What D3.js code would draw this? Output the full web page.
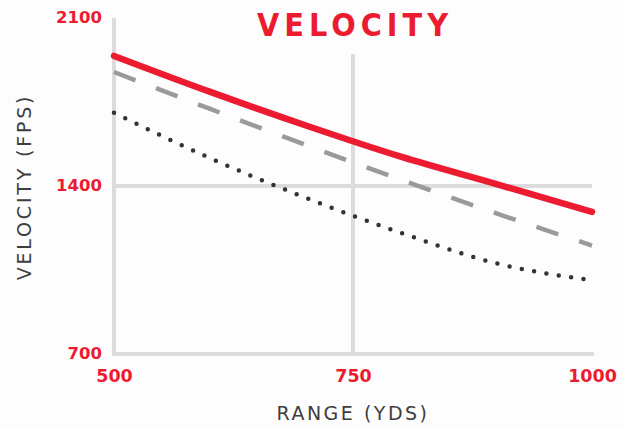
<!DOCTYPE html>
<html>
<head>
<meta charset="utf-8">
<script src="https://cdn.jsdelivr.net/npm/d3@7"></script>
<style>
  html, body { margin: 0; padding: 0; background: #fdfdfd; }
  svg { display: block; }
  .tick-label { font-family: "DejaVu Sans", sans-serif; font-weight: bold; fill: #ec1b30; }
  .axis-title { font-family: "DejaVu Sans", sans-serif; fill: #3e3e40; }
</style>
</head>
<body>
<svg id="chart" width="624" height="427"></svg>
<script>
// Range in yards
const ranges = [500, 600, 700, 800, 900, 1000];
// Velocity in feet per second, one array per load
const velocityA = [1942, 1793, 1653, 1522, 1408, 1292];
const velocityB = [1875, 1722, 1572, 1426, 1286, 1152];
const velocityC = [1705, 1517, 1352, 1205, 1078, 1007];

const xTicks = [500, 750, 1000];
const yTicks = [700, 1400, 2100];
const title = "VELOCITY";
const xTitle = "RANGE (YDS)";
const yTitle = "VELOCITY (FPS)";

const svg = d3.select("#chart");
const x = d3.scaleLinear().domain([500, 1000]).range([114, 592]);
const y = d3.scaleLinear().domain([700, 2100]).range([354, 18]);

const gridColor = "#dcdcdf";
const grid = svg.append("g").attr("stroke", gridColor).attr("stroke-width", 4);

// frame: left edge and baseline
grid.append("line")
  .attr("x1", x(500)).attr("x2", x(500))
  .attr("y1", y(2100)).attr("y2", y(700) + 2);
grid.append("line")
  .attr("x1", x(500)).attr("x2", x(1000) + 2)
  .attr("y1", y(700)).attr("y2", y(700));
// interior grid
grid.append("line")
  .attr("x1", x(750)).attr("x2", x(750))
  .attr("y1", y(1950)).attr("y2", y(700));
grid.append("line")
  .attr("x1", x(500)).attr("x2", x(1000))
  .attr("y1", y(1400)).attr("y2", y(1400));

// tick labels via d3 axes
const xAxis = svg.append("g")
  .attr("transform", `translate(0,${y(700)})`)
  .call(d3.axisBottom(x).tickValues(xTicks).tickSize(0).tickPadding(16).tickFormat(d3.format("d")));
xAxis.select(".domain").remove();
xAxis.selectAll("text").attr("class", "tick-label").attr("font-size", 17.5).attr("fill", null);

const yAxis = svg.append("g")
  .attr("transform", `translate(${x(500)},0)`)
  .call(d3.axisLeft(y).tickValues(yTicks).tickSize(0).tickPadding(12).tickFormat(d3.format("d")));
yAxis.select(".domain").remove();
yAxis.selectAll("text").attr("class", "tick-label").attr("font-size", 16.5).attr("fill", null)
  .attr("dy", "0.3em");

const line = d3.line()
  .x((d, i) => x(ranges[i]))
  .y(d => y(d))
  .curve(d3.curveMonotoneX);

// dotted series
svg.append("path")
  .datum(velocityC)
  .attr("d", line)
  .attr("fill", "none")
  .attr("stroke", "#333335")
  .attr("stroke-width", 4.5)
  .attr("stroke-linecap", "round")
  .attr("stroke-dasharray", "0 12.5");

// dashed series
svg.append("path")
  .datum(velocityB)
  .attr("d", line)
  .attr("fill", "none")
  .attr("stroke", "#9a9a9c")
  .attr("stroke-width", 4.5)
  .attr("stroke-dasharray", "23 22");

// solid series
svg.append("path")
  .datum(velocityA)
  .attr("d", line)
  .attr("fill", "none")
  .attr("stroke", "#ec1b30")
  .attr("stroke-width", 6.5)
  .attr("stroke-linecap", "round");

// titles
svg.append("text")
  .attr("x", 355).attr("y", 36)
  .attr("text-anchor", "middle")
  .attr("font-family", "DejaVu Sans, sans-serif")
  .attr("font-weight", "bold")
  .attr("font-stretch", "condensed")
  .attr("font-size", 32)
  .attr("letter-spacing", 5)
  .attr("fill", "#ec1b30")
  .text(title);

svg.append("text")
  .attr("class", "axis-title")
  .attr("x", x(750)).attr("y", 420)
  .attr("text-anchor", "middle")
  .attr("font-size", 19)
  .attr("letter-spacing", 2.5)
  .text(xTitle);

svg.append("text")
  .attr("class", "axis-title")
  .attr("transform", `translate(31,${y(1400) + 1}) rotate(-90)`)
  .attr("text-anchor", "middle")
  .attr("font-size", 19)
  .attr("letter-spacing", 2.8)
  .text(yTitle);
</script>
</body>
</html>
